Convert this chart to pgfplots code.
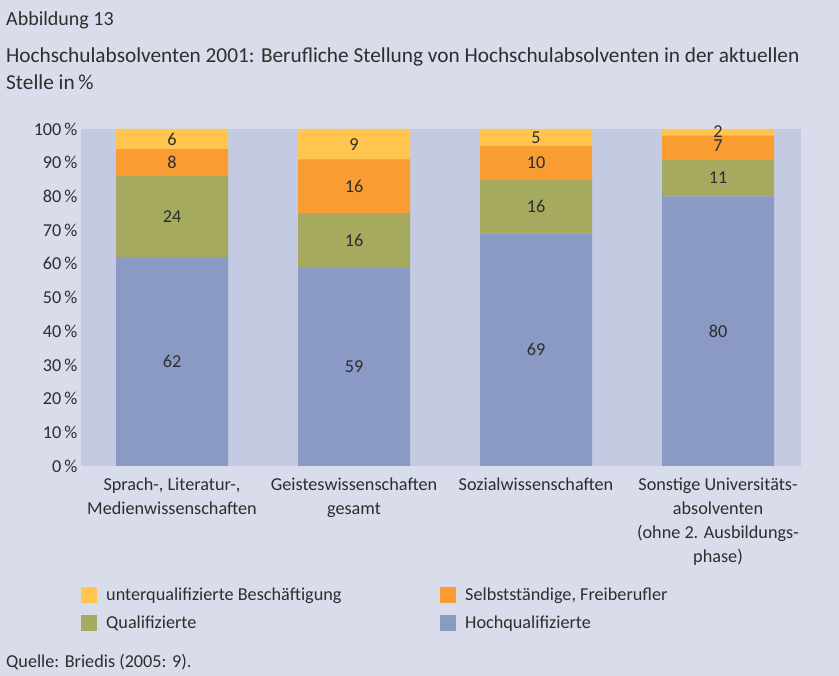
\documentclass[border=0pt]{standalone}
\usepackage{fontspec}
\setmainfont{Carlito}
\usepackage{pgfplots}
\pgfplotsset{compat=1.18}
\definecolor{pagebg}{HTML}{D9DCEA}
\definecolor{plotbg}{HTML}{C5CAE3}
\definecolor{cHoch}{HTML}{8A9AC4}
\definecolor{cQual}{HTML}{A6AA5E}
\definecolor{cSelb}{HTML}{F99D33}
\definecolor{cUnt}{HTML}{FFC54F}
\definecolor{txt}{HTML}{2E2E2E}
\newcommand\fs{\fontsize{18.2bp}{24bp}\selectfont}
\newcommand\ft{\fontsize{21.3bp}{27bp}\selectfont}
\pgfplotstableread{
x hoch qual selb unt
0 62 24 8 6
1 59 16 16 9
2 69 16 10 5
3 80 11 7 2
}\datatable
\pgfplotstableread{
x y l
0 31 62
0 74 24
0 90 8
0 97 6
1 29.5 59
1 67 16
1 83 16
1 95.5 9
2 34.5 69
2 77 16
2 90 10
2 97.5 5
3 40 80
3 85.5 11
3 95 7
3 99.2 2
}\labeltable
\begin{document}
\begin{tikzpicture}
\fill[pagebg] (0bp,0bp) rectangle (839bp,676bp);
\node[anchor=base west, font=\fontsize{20bp}{24bp}\selectfont, text=txt, inner sep=0pt] at (6bp,650bp) {Abbildung 13};
\node[anchor=base west, font=\ft, text=txt, inner sep=0pt] at (6bp,613bp) {Hochschulabsolventen 2001: Berufliche Stellung von Hochschulabsolventen in der aktuellen};
\node[anchor=base west, font=\ft, text=txt, inner sep=0pt] at (6bp,586bp) {Stelle in\,\%};
\node[anchor=west, font=\fs, text=txt, inner sep=0pt] at (6bp,14bp) {Quelle: Briedis (2005: 9).};
\begin{axis}[at={(81bp,210bp)}, anchor=south west, scale only axis,
  width=720bp, height=337bp,
  ybar stacked, bar width=112bp,
  xmin=-0.5, xmax=3.456, ymin=0, ymax=100,
  axis background/.style={fill=plotbg},
  axis line style={draw=none}, tick style={draw=none},
  xtick={0,1,2,3},
  xticklabels={{Sprach-, Literatur-,\\Medienwissenschaften},{Geisteswissenschaften\\gesamt},{Sozialwissenschaften},{Sonstige Universitäts-\\absolventen\\(ohne 2. Ausbildungs-\\phase)}},
  x tick label style={align=center, font=\fs, text=txt, yshift=-8bp},
  ytick={0,10,...,100},
  yticklabel={\pgfmathprintnumber{\tick}\,\%},
  y tick label style={font=\fs, text=txt},
  /pgf/number format/assume math mode=true,
  reverse legend,
  legend columns=2,
  legend style={at={(0,-0.357)}, anchor=north west, draw=none, fill=none,
    font=\fs, text=txt, inner sep=0pt, row sep=12bp,
    nodes={inner sep=0pt}, column sep=9bp},
  legend cell align=left,
  legend image code/.code={\fill[#1] (0bp,-8bp) rectangle (16bp,8bp);},
]
\addplot[fill=cHoch, draw=none] table[x=x, y=hoch] {\datatable};
\addplot[fill=cQual, draw=none] table[x=x, y=qual] {\datatable};
\addplot[fill=cSelb, draw=none] table[x=x, y=selb] {\datatable};
\addplot[fill=cUnt, draw=none] table[x=x, y=unt] {\datatable};
\legend{\makebox[325bp][l]{Hochqualifizierte},\makebox[325bp][l]{Qualifizierte},\makebox[325bp][l]{Selbstständige, Freiberufler},\makebox[325bp][l]{unterqualifizierte Beschäftigung}}
\end{axis}
\begin{axis}[at={(81bp,210bp)}, anchor=south west, scale only axis,
  width=720bp, height=337bp,
  xmin=-0.5, xmax=3.456, ymin=0, ymax=100, hide axis]
\addplot[draw=none, mark=none, nodes near coords, point meta=explicit symbolic,
  every node near coord/.append style={anchor=center, font=\fs, text=txt}]
  table[x=x, y=y, meta=l] {\labeltable};
\end{axis}
\end{tikzpicture}
\end{document}
